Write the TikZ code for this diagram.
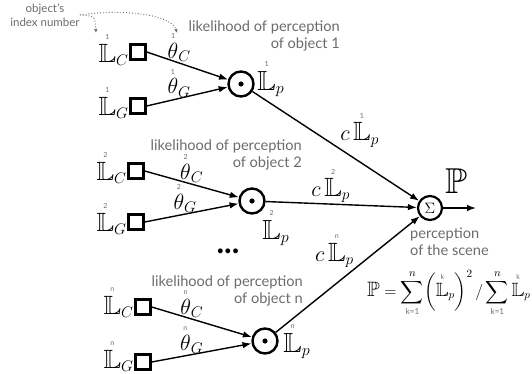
\RequirePackage{fix-cm}
\documentclass[tikz,border=0pt]{standalone}
\usepackage{amsmath}
\usepackage{amssymb}
\usepackage{fontspec}
\setsansfont{Lato}
\usetikzlibrary{arrows.meta}
\definecolor{notegray}{gray}{0.42}
\newcommand{\idx}[2]{\overset{\text{\sffamily\fontsize{7}{7}\selectfont\color{notegray}#1}}{#2}}
\newcommand{\LL}{\scalebox{1.2}{$\mathbb{L}$}}
\newcommand{\klim}{\text{\sffamily\fontsize{8}{8}\selectfont\color{notegray}k=1}}
\begin{document}
\begin{tikzpicture}[x=1pt,y=-1pt,
	box/.style={draw, line width=2.4pt, minimum size=15pt, inner sep=0pt},
	prod/.style={circle, draw, line width=2.4pt, minimum size=25pt, inner sep=0pt,
		path picture={\fill (path picture bounding box.center) circle (2.6pt);}},
	sumnode/.style={circle, draw, line width=2.2pt, minimum size=24pt, inner sep=0pt,
		font=\fontsize{15}{15}\selectfont},
	wire/.style={line width=1.4pt, -{Latex[length=9pt,width=6.5pt]}},
	hint/.style={notegray, dotted, line width=0.9pt, -{Latex[length=4pt,width=3.5pt]}},
	txt/.style={font=\sffamily\fontsize{14.6}{17}\selectfont, text=notegray, inner sep=0pt},
	mth/.style={font=\fontsize{22}{26}\selectfont, inner sep=0.5pt},
	big/.style={mth, font=\fontsize{23}{27}\selectfont},
	]
	\useasboundingbox (0,0) rectangle (532,374);
	
	% Object 1
	\node[box, label={[mth, yshift=3pt]left:$\idx{1}{\LL}_C$}] (lc1) at (138,52) {};
	\node[box, label={[mth, yshift=4pt]left:$\idx{1}{\LL}_G$}] (lg1) at (138,106) {};
	\node[prod, label={[big, yshift=6pt, label distance=2pt]right:$\idx{1}{\LL}_p$}] (dot1) at (241,84) {};
	\node[txt, align=right, anchor=north east] (like1) at (340,21) {likelihood of perception\\of object 1};
	
	% Object 2
	\node[box, label={[mth, yshift=4pt]left:$\idx{2}{\LL}_C$}] (lc2) at (136,171) {};
	\node[box, label={[mth, yshift=4pt]left:$\idx{2}{\LL}_G$}] (lg2) at (136,222) {};
	\node[prod, label={[big, yshift=3pt]below right:$\idx{2}{\LL}_p$}] (dot2) at (252,201) {};
	\node[txt, align=right, anchor=north east] (like2) at (302,140) {likelihood of perception\\of object 2};
	
	\node[font=\sffamily\bfseries\fontsize{32}{32}\selectfont, inner sep=0pt] (dots) at (228,251) {...};
	
	% Object n
	\node[box, label={[mth, yshift=5pt]left:$\idx{n}{\LL}_C$}] (lc3) at (143,307) {};
	\node[box, label={[mth, yshift=6pt]left:$\idx{n}{\LL}_G$}] (lg3) at (143,362) {};
	\node[prod, label={[big, label distance=4pt]right:$\idx{n}{\LL}_p$}] (dot3) at (265,341) {};
	\node[txt, align=right, anchor=north east] (like3) at (303,276) {likelihood of perception\\of object n};
	
	% Scene
	\node[sumnode] (sum) at (430,208) {$\Sigma$};
	\coordinate (out) at (476,208);
	\node[font=\fontsize{36}{40}\selectfont, inner sep=0pt] (pbig) at (456,181) {$\mathbb{P}$};
	\node[txt, align=left, anchor=north west] (scene) at (410,228) {perception\\of the scene};
	\node[font=\fontsize{16}{19}\selectfont, inner sep=0pt, anchor=west] (formula) at (367,293)
		{$\displaystyle \scalebox{1.3}{$\mathbb{P}$} = \sum_{\klim}^{n}
		\biggl(\idx{k}{\LL}_p\biggr)^{2} \,/ \sum_{\klim}^{n} \idx{k}{\LL}_p$};
	
	% Index note
	\node[txt, font=\sffamily\fontsize{11.5}{14}\selectfont, align=center] (note) at (45,15) {object's\\index number};
	\coordinate (tip1) at (96,33);
	\coordinate (tip2) at (177,33);
	\draw[hint] (note.east) .. controls (95,16) .. (tip1);
	\draw[hint] (note.east) .. controls (130,8) and (172,16) .. (tip2);
	
	% Connectors
	\draw[wire] (lc1.east) -- (dot1) node[pos=0.4, above, mth] {$\idx{1}{\theta}_C$};
	\draw[wire] (lg1.east) -- (dot1) node[pos=0.4, above, mth] {$\idx{1}{\theta}_G$};
	\draw[wire] (lc2.east) -- (dot2) node[pos=0.5, above, mth] {$\idx{2}{\theta}_C$};
	\draw[wire] (lg2.east) -- (dot2) node[pos=0.43, above, mth] {$\idx{2}{\theta}_G$};
	\draw[wire] (lc3.east) -- (dot3) node[pos=0.4, above, mth] {$\idx{n}{\theta}_C$};
	\draw[wire] (lg3.east) -- (dot3) node[pos=0.4, above, mth] {$\idx{n}{\theta}_G$};
	\draw[wire] (dot1) -- (sum) node[pos=0.52, above right, mth] {$c\,\idx{1}{\LL}_p$};
	\draw[wire] (dot2) -- (sum) node[pos=0.43, above, mth] {$c\,\idx{2}{\LL}_p$};
	\draw[wire] (dot3) -- (sum) node[pos=0.55, above left, mth] {$c\,\idx{n}{\LL}_p$};
	\draw[wire] (sum) -- (out);
\end{tikzpicture}
\end{document}
